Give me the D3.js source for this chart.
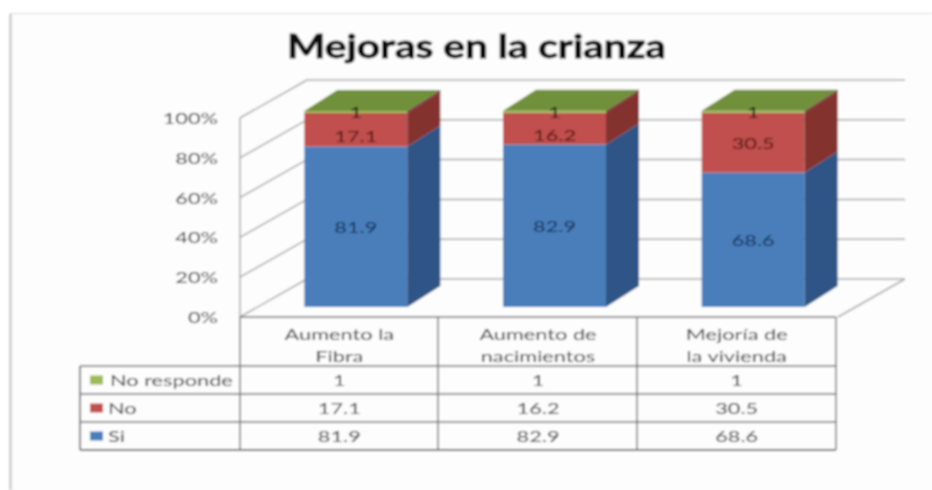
<!DOCTYPE html>
<html><head><meta charset="utf-8">
<script src="https://cdn.jsdelivr.net/npm/d3@7"></script>
<style>html,body{margin:0;background:#fff}svg{display:block}text{font-family:Lato,"Open Sans",sans-serif}</style>
</head><body>
<script>
const title = "Mejoras en la crianza";
const categories = [["Aumento la","Fibra"],["Aumento de","nacimientos"],["Mejoría de","la vivienda"]];
const seriesNames = ["Si","No","No responde"];
const si = [81.9,82.9,68.6];
const no = [17.1,16.2,30.5];
const noResponde = [1,1,1];
const seriesValues = [si,no,noResponde];
const frontColors = ["#4a7ebb","#c0504d","#9bbb59"];
const sideColors = ["#2f5485","#83302e","#6d2c2b"];
const topColor = "#71903a";
const yTicks = [0,20,40,60,80,100];

const svg = d3.select("body").append("svg").attr("width",932).attr("height",490);
const defs = svg.append("defs");
defs.append("filter").attr("id","soft").attr("filterUnits","userSpaceOnUse")
  .attr("x",0).attr("y",0).attr("width",932).attr("height",490)
  .append("feGaussianBlur").attr("stdDeviation",0.8);
const g = svg.append("g").attr("filter","url(#soft)");

const dx = 67, dy = -38;
const y = d3.scaleLinear().domain([0,100]).range([317,118]);
const yBar = d3.scaleLinear().domain([0,100]).range([307,111]);
const x = d3.scaleBand().domain(d3.range(3)).range([240,836]).padding(0);
const barW = 103, barDx = 33, barDy = -21, barShift = 16.5;
const grid = "#a8a8a8";
const sx = 1.36;
const ink = "#333";

function label(parent,t,px,py,anchor,size,fill,scale=sx,weight=400){
  return parent.append("text").attr("transform",`translate(${px},${py}) scale(${scale},1)`)
    .attr("text-anchor",anchor).attr("font-size",size).attr("font-weight",weight).attr("fill",fill).text(t);
}

// outer frame
g.append("rect").attr("x",11).attr("y",14).attr("width",930).attr("height",490).attr("fill","#fdfdfd");
g.append("path").attr("d","M932,13.5H10.5V490").attr("stroke","#dcdcdc").attr("fill","none");
g.append("line").attr("x1",10.5).attr("y1",14).attr("x2",10.5).attr("y2",490).attr("stroke","#bdbdbd").attr("stroke-width",2);

// walls
yTicks.forEach(t=>{
  g.append("line").attr("x1",240).attr("y1",y(t)).attr("x2",240+dx).attr("y2",y(t)+dy).attr("stroke",grid).attr("stroke-width",1.5);
  g.append("line").attr("x1",240+dx).attr("y1",y(t)+dy).attr("x2",905).attr("y2",y(t)+dy).attr("stroke",grid).attr("stroke-width",1.5);
  label(g,t+"%",218,y(t)+6,"end",16,ink);
});
g.append("line").attr("x1",240).attr("y1",y(0)).attr("x2",240).attr("y2",y(100)).attr("stroke",grid).attr("stroke-width",1.5);
g.append("line").attr("x1",905).attr("y1",y(0)+dy).attr("x2",838).attr("y2",y(0)).attr("stroke",grid).attr("stroke-width",1.5);

// bars
categories.forEach((c,i)=>{
  const x0 = x(i)+(x.bandwidth()-barW)/2 + barShift;
  let acc = 0;
  seriesValues.forEach((s,k)=>{
    const a = acc, b = acc+s[i]; acc = b;
    const y0 = yBar(a), y1 = yBar(b);
    g.append("rect").attr("x",x0).attr("y",y1).attr("width",barW).attr("height",y0-y1).attr("fill",frontColors[k]);
    g.append("polygon").attr("points",[[x0+barW,y0],[x0+barW+barDx,y0+barDy],[x0+barW+barDx,y1+barDy],[x0+barW,y1]].join(" ")).attr("fill",sideColors[k]);
    if(k===2){
      g.append("polygon").attr("points",[[x0,y1],[x0+barDx,y1+barDy],[x0+barW+barDx,y1+barDy],[x0+barW,y1]].join(" ")).attr("fill",topColor);
    }
  });
  acc = 0;
  seriesValues.forEach((s,k)=>{
    const mid = acc+s[i]/2; acc += s[i];
    const nudge = (k===1 && s[i]<20) ? 6 : 0;
    label(g,s[i],x0+barW/2,yBar(mid)+6+nudge,"middle",16,["#0f2c50","#4a0e0c","#111"][k]);
  });
});

// data table
const tl = "#6e6e6e";
const rowsY = [366,394,422,450];
const colX = [240,438,637,836];
const line=(a,b,c,d,w=1.4)=>g.append("line").attr("x1",a).attr("y1",b).attr("x2",c).attr("y2",d).attr("stroke",tl).attr("stroke-width",w);
line(240,317,836,317);
colX.forEach(v=>line(v,317,v,450));
rowsY.forEach(v=>line(80,v,836,v));
line(80,366,80,450,1.8);
line(80,450,836,450,2);

categories.forEach((c,i)=>{
  c.forEach((t,j)=>{
    label(g,t,x(i)+x.bandwidth()/2,340+j*22,"middle",16,ink);
  });
});
[2,1,0].forEach((k,r)=>{
  const cy = rowsY[r]+14;
  g.append("rect").attr("x",90).attr("y",cy-4.5).attr("width",13).attr("height",9).attr("fill",frontColors[k]);
  label(g,seriesNames[k],k===2?110:108,cy+6,"start",16,ink);
  seriesValues[k].forEach((v,i)=>{
    label(g,v,x(i)+x.bandwidth()/2,cy+6,"middle",16,ink);
  });
});

label(g,title,476.5,58,"middle",33,"#111",1.23,700).attr("stroke","#111").attr("stroke-width",0.8);
</script>
</body></html>
